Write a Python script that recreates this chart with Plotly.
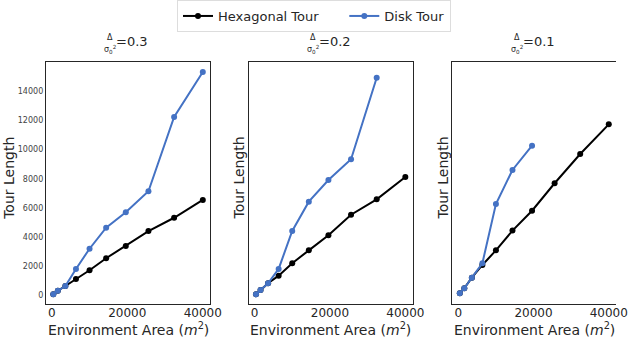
import plotly.graph_objects as go

# environment areas (m^2) for the ten runs
area = [400, 1600, 3600, 6400, 10000, 14400, 19600, 25600, 32400, 40000]

hex_03 = [100, 340, 660, 1140, 1740, 2560, 3400, 4420, 5330, 6550]
disk_03 = [100, 340, 660, 1830, 3210, 4650, 5700, 7140, 12220, 15300]
hex_02 = [100, 390, 850, 1370, 2220, 3100, 4130, 5540, 6590, 8120]
disk_02 = [100, 390, 850, 1830, 4430, 6430, 7910, 9330, 14910]
hex_01 = [160, 510, 1230, 2100, 3100, 4450, 5810, 7690, 9690, 11720]
disk_01 = [160, 510, 1230, 2220, 6270, 8600, 10260]

ratios = ["0.3", "0.2", "0.1"]
y_ticks = [0, 2000, 4000, 6000, 8000, 10000, 12000, 14000]
x_ticks = [0, 20000, 40000]

W, H = 640, 339
HEX_COLOR = "black"
DISK_COLOR = "#4472C4"
FONT = "DejaVu Sans"

# panel frames in pixels (left, right); shared top/bottom
panels_px = [(46.7, 214.3), (253.3, 420.7), (461.0, 628.0)]
top_px, bottom_px = 61.7, 304.3

fig = go.Figure()

series = [(hex_03, disk_03), (hex_02, disk_02), (hex_01, disk_01)]
for i, (hex_y, disk_y) in enumerate(series):
    ax = "" if i == 0 else str(i + 1)
    fig.add_trace(go.Scatter(
        x=area[:len(hex_y)], y=hex_y, mode="lines+markers",
        name="Hexagonal Tour" + "&nbsp;" * 5,
        line=dict(color=HEX_COLOR, width=2), marker=dict(size=6, color=HEX_COLOR),
        showlegend=(i == 0), xaxis="x" + ax, yaxis="y" + ax,
    ))
    fig.add_trace(go.Scatter(
        x=area[:len(disk_y)], y=disk_y, mode="lines+markers", name="Disk Tour",
        line=dict(color=DISK_COLOR, width=2), marker=dict(size=6, color=DISK_COLOR),
        showlegend=(i == 0), xaxis="x" + ax, yaxis="y" + ax,
    ))

ydom = [1 - bottom_px / H, 1 - top_px / H]
layout = {}
annotations = []
for i, (l, r) in enumerate(panels_px):
    ax = "" if i == 0 else str(i + 1)
    layout["xaxis" + ax] = dict(
        domain=[l / W, r / W], range=[-1580, 41980], anchor="y" + ax,
        tickvals=x_ticks, ticktext=[str(v) for v in x_ticks], ticks="",
        ticklabelstandoff=-3,
        showgrid=False, zeroline=False,
        showline=True, linecolor="#262626", linewidth=1, mirror=True,
        tickfont=dict(size=12, color="#262626"),
    )
    layout["yaxis" + ax] = dict(
        domain=ydom, range=[-590, 16005], anchor="x" + ax,
        tickvals=y_ticks, ticktext=[str(v) for v in y_ticks], ticks="",
        showgrid=False, zeroline=False,
        showline=True, linecolor="#262626", linewidth=1, mirror=(i < 2),
        showticklabels=(i == 0), tickfont=dict(size=8, color="#444444"),
    )
    cx = (l + r) / 2
    # title: Delta over sigma_0^2 = value
    annotations.append(dict(
        text="Δ", x=(cx - 18) / W, y=1 - 37.5 / H, xref="paper", yref="paper",
        showarrow=False, font=dict(size=8, family=FONT, color="#262626"),
        xanchor="center", yanchor="middle",
    ))
    annotations.append(dict(
        text="σ<sub>0</sub><sup>2</sup>", x=(cx - 18) / W, y=1 - 50 / H,
        xref="paper", yref="paper", showarrow=False,
        font=dict(size=8, family=FONT, color="#262626"),
        xanchor="center", yanchor="middle",
    ))
    annotations.append(dict(
        text="=" + ratios[i], x=(cx - 14) / W, y=1 - 42 / H, xref="paper", yref="paper",
        showarrow=False, font=dict(size=13, family=FONT, color="#262626"),
        xanchor="left", yanchor="middle",
    ))
    annotations.append(dict(
        text="Environment Area (<i>m</i><sup>2</sup>)", x=cx / W, y=-1 / H,
        xref="paper", yref="paper", showarrow=False,
        font=dict(size=14, family=FONT, color="#262626"),
        xanchor="center", yanchor="bottom",
    ))
    ylab_x = [9, 244, 451][i]
    annotations.append(dict(
        text="Tour Length", x=ylab_x / W, y=1 - 178 / H, xref="paper", yref="paper",
        showarrow=False, textangle=-90, font=dict(size=14, family=FONT, color="#262626"),
        xanchor="center", yanchor="middle",
    ))

fig.update_layout(
    width=W, height=H,
    margin=dict(l=0, r=0, t=0, b=0),
    paper_bgcolor="white", plot_bgcolor="white",
    font=dict(family=FONT, color="#262626"),
    legend=dict(
        orientation="h", x=0.5, xanchor="center", y=1.0, yanchor="top",
        bordercolor="#dddddd", borderwidth=1, font=dict(size=13),
        itemwidth=30,
    ),
    annotations=annotations,
    **layout,
)

# drop the default page margin so the figure sits at the window's corner
fig.write_html(
    "out.html",
    config={"displayModeBar": False},
    post_script="document.body.style.margin='0';",
)
